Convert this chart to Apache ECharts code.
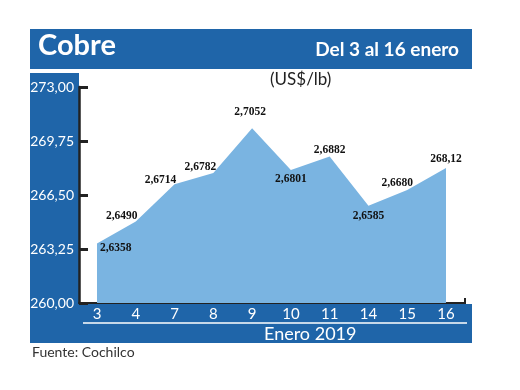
<!DOCTYPE html>
<html><head><meta charset="utf-8">
<script src="https://cdn.jsdelivr.net/npm/echarts@6/dist/echarts.min.js"></script>
<style>html,body{margin:0;padding:0;background:#fff}#c{width:520px;height:390px}</style>
</head><body><div id="c"></div>
<script>
const categories = ['3','4','7','8','9','10','11','14','15','16'];
const values = [263.58, 264.90, 267.14, 267.82, 270.52, 268.01, 268.82, 265.85, 266.80, 268.12];
const pointLabels = ['2,6358','2,6490','2,6714','2,6782','2,7052','2,6801','2,6882','2,6585','2,6680','268,12'];
const title = 'Cobre';
const subtitle = 'Del 3 al 16 enero';
const unit = '(US$/lb)';
const xName = 'Enero 2019';
const source = 'Fuente: Cochilco';

const BLUE = '#1f65a9';
const AREA = '#7ab4e1';
const INK = '#222';

// label placement per point (style only)
const place = [
  {position:'right', offset:[-2,5]},
  {position:'top', offset:[-14,5]},
  {position:'top', offset:[-14,7]},
  {position:'top', offset:[-13,5]},
  {position:'top', offset:[-2,-5]},
  {position:'bottom', offset:[0,-2]},
  {position:'top', offset:[0,5]},
  {position:'bottom', offset:[0,-1]},
  {position:'top', offset:[-10,4]},
  {position:'top', offset:[0,2]}
];

const data = values.map((v,i)=>({
  value:[i,v],
  label:{show:true, formatter:pointLabels[i], position:place[i].position, offset:place[i].offset}
}));

const chart = echarts.init(document.getElementById('c'), null, {renderer:'canvas'});
chart.setOption({
  animation:false,
  backgroundColor:'#fff',
  graphic:[
    {type:'rect', z:-10, shape:{x:30,y:29,width:442,height:40}, style:{fill:BLUE}},
    {type:'rect', z:-10, shape:{x:30,y:73,width:49,height:270}, style:{fill:BLUE}},
    {type:'rect', z:-10, shape:{x:30,y:304,width:442,height:39}, style:{fill:BLUE}},
    {type:'text', left:38, top:31, style:{text:title, fill:'#fff', font:'bold 29px Lato', letterSpacing:1}},
    {type:'text', right:61, top:40, style:{text:subtitle, fill:'#fff', font:'bold 19px Lato'}},
    {type:'text', left:270, top:71, style:{text:unit, fill:INK, font:'17px Lato', align:'center'}},
    {type:'line', shape:{x1:83,y1:323,x2:467,y2:323}, style:{stroke:'#fff', lineWidth:1.5}},
    {type:'text', left:264, top:325, style:{text:xName, fill:'#fff', font:'18px Lato', align:'center'}},
    {type:'text', left:32, top:345, style:{text:source, fill:'#333', font:'14px Lato'}},
    {type:'line', z:10, shape:{x1:465,y1:298,x2:465,y2:304}, style:{stroke:INK, lineWidth:2}}
  ],
  grid:{left:79, right:55, top:87, bottom:87, containLabel:false},
  xAxis:{
    type:'value', min:-0.464, max:9.49,
    splitLine:{show:false},
    axisLine:{show:true, onZero:false, lineStyle:{color:INK, width:2}},
    axisTick:{show:false},
    axisLabel:{customValues:categories.map((c,i)=>i), formatter:v=>categories[Math.round(v)], color:'#fff', fontFamily:'Lato', fontSize:15, margin:4}
  },
  yAxis:{
    type:'value', min:260, max:273, interval:3.25, z:5,
    splitLine:{show:false},
    axisLine:{show:true, onZero:false, lineStyle:{color:INK, width:2.5}},
    axisTick:{show:true, inside:true, length:9, lineStyle:{color:INK, width:3}},
    axisLabel:{color:'#fff', fontFamily:'Lato', fontSize:14, margin:5,
      formatter:v=>v.toFixed(2).replace('.',',')}
  },
  series:[{
    type:'line', data:data, symbol:'circle', symbolSize:2, showSymbol:true, smooth:false,
    lineStyle:{width:0, color:AREA},
    itemStyle:{color:'rgba(0,0,0,0)'},
    areaStyle:{color:AREA, opacity:1},
    label:{show:true, color:'#111', fontFamily:'Liberation Serif', fontWeight:'bold', fontSize:11.5, distance:4},
    z:2
  }]
});
</script></body></html>
